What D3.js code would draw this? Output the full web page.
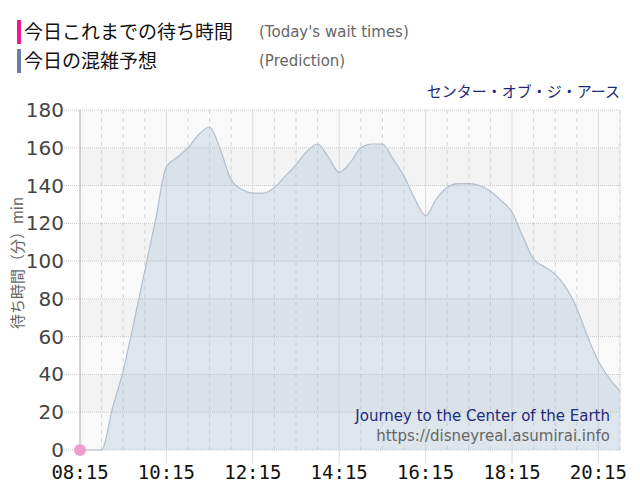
<!DOCTYPE html>
<html>
<head>
<meta charset="utf-8">
<script src="https://cdn.jsdelivr.net/npm/d3@7"></script>
<style>
  body { margin: 0; background: #fff; }
  svg { display: block; font-family: "DejaVu Sans", sans-serif; }
</style>
</head>
<body>
<div class="container"></div>
<script>
// prediction, every 15 minutes from 08:15 to 20:45
const times = ['08:15','08:30','08:45','09:00','09:15','09:30','09:45','10:00','10:15','10:30','10:45',
  '11:00','11:15','11:30','11:45','12:00','12:15','12:30','12:45','13:00','13:15','13:30','13:45',
  '14:00','14:15','14:30','14:45','15:00','15:15','15:30','15:45','16:00','16:15','16:30','16:45',
  '17:00','17:15','17:30','17:45','18:00','18:15','18:30','18:45','19:00','19:15','19:30','19:45',
  '20:00','20:15','20:30','20:45'];
const prediction = [0,0,0,22,42,68,95,122,150,155,160,
  167,171,159,143,138,136,136,139,145,151,158,162,
  155,147,152,160,162,162,154,145,133,124,133,139,
  141,141,140,137,132,126,113,101,97,93,86,75,
  60,47,38,31];
// today's measured wait times so far
const todayTimes = ['08:15'];
const todayWaits = [0];
const xTickLabels = ['08:15','10:15','12:15','14:15','16:15','18:15','20:15'];
const yTicks = [0,20,40,60,80,100,120,140,160,180];

const width = 640;
const height = 500;
const margin = {top: 110, right: 20, bottom: 50, left: 80};

//'hh:mm' -> minutes since midnight
const toMin = s => {
  const [h, m] = s.split(':').map(Number);
  return h * 60 + m;
};
const labelMins = xTickLabels.map(toMin);

const x = d3.scaleLinear()
  .domain([toMin('08:15'), toMin('20:45')])
  .range([margin.left, width - margin.right]);
const y = d3.scaleLinear()
  .domain([0, 180])
  .range([height - margin.bottom, margin.top]);

const svg = d3.select('.container')
  .append('svg')
  .attr('width', width)
  .attr('height', height);

// alternating bands
const bands = d3.range(0, 180, 20);
svg.append('g').selectAll('rect')
  .data(bands)
  .join('rect')
  .attr('x', x.range()[0])
  .attr('width', x.range()[1] - x.range()[0])
  .attr('y', d => y(d + 20))
  .attr('height', d => y(d) - y(d + 20))
  .attr('fill', (d, i) => i % 2 === 0 ? '#f9f9f9' : '#f3f3f3');

// vertical grid every 30 minutes
const halfHours = d3.range(toMin('08:45'), toMin('20:45') + 1, 30);
svg.append('g').selectAll('line')
  .data(halfHours)
  .join('line')
  .attr('x1', d => x(d)).attr('x2', d => x(d))
  .attr('y1', y(180)).attr('y2', d => labelMins.includes(d) ? y(0) + 14 : y(0))
  .attr('stroke', d => labelMins.includes(d) ? '#dcdcdc' : '#d4d4d4')
  .attr('stroke-dasharray', d => labelMins.includes(d) ? null : '4,4');

// horizontal grid
svg.append('g').selectAll('line')
  .data(yTicks)
  .join('line')
  .attr('x1', margin.left - 16).attr('x2', x.range()[1])
  .attr('y1', d => y(d)).attr('y2', d => y(d))
  .attr('stroke', '#c8c8c8')
  .attr('stroke-dasharray', '1,1');

// right border
svg.append('line')
  .attr('x1', x.range()[1]).attr('x2', x.range()[1])
  .attr('y1', y(180)).attr('y2', y(0))
  .attr('stroke', '#cccccc')
  .attr('stroke-dasharray', '1,1');

// prediction area
const predData = times.map((t, i) => ({t: toMin(t), v: prediction[i]}));
const area = d3.area()
  .x(d => x(d.t))
  .y0(y(0))
  .y1(d => y(d.v))
  .curve(d3.curveMonotoneX);
const line = d3.line()
  .x(d => x(d.t))
  .y(d => y(d.v))
  .curve(d3.curveMonotoneX);

svg.append('path')
  .datum(predData)
  .attr('d', area)
  .attr('fill', '#a9bfd6')
  .attr('fill-opacity', 0.35);
svg.append('path')
  .datum(predData)
  .attr('d', line)
  .attr('fill', 'none')
  .attr('stroke', '#b3bfcc')
  .attr('stroke-width', 1.2);

// left axis line
svg.append('line')
  .attr('x1', x.range()[0]).attr('x2', x.range()[0])
  .attr('y1', y(180)).attr('y2', y(0))
  .attr('stroke', '#aaaaaa');

// y tick labels
svg.append('g').selectAll('text')
  .data(yTicks)
  .join('text')
  .attr('x', margin.left - 16)
  .attr('y', d => y(d) + 7)
  .attr('text-anchor', 'end')
  .attr('font-size', 20)
  .attr('fill', '#444')
  .text(d => d);

// x tick labels
svg.append('g').selectAll('text')
  .data(xTickLabels)
  .join('text')
  .attr('x', d => x(toMin(d)))
  .attr('y', y(0) + 29)
  .attr('text-anchor', 'middle')
  .attr('font-size', 19)
  .attr('fill', '#111')
  .style('font-family', '"DejaVu Sans Mono", monospace')
  .text(d => d);

// today's points
const todayData = todayTimes.map((t, i) => ({t: toMin(t), v: todayWaits[i]}));
svg.append('g').selectAll('circle')
  .data(todayData)
  .join('circle')
  .attr('cx', d => x(d.t))
  .attr('cy', d => y(d.v))
  .attr('r', 6)
  .attr('fill', '#f29ccc');

// y axis title
svg.append('text')
  .attr('transform', `translate(23,263) rotate(-90)`)
  .attr('text-anchor', 'middle')
  .attr('font-size', 15)
  .attr('fill', '#666')
  .style('font-family', '"Noto Sans CJK JP", sans-serif')
  .text('待ち時間（分）min');

// legend
const legend = [
  {label: '今日これまでの待ち時間', en: "(Today's wait times)", color: '#f0198c'},
  {label: '今日の混雑予想', en: '(Prediction)', color: '#6a7ea6'}
];
const lg = svg.append('g').selectAll('g')
  .data(legend)
  .join('g')
  .attr('transform', (d, i) => `translate(0,${20 + i * 29})`);
lg.append('rect')
  .attr('x', 17).attr('y', 0)
  .attr('width', 4).attr('height', 24)
  .attr('fill', d => d.color);
lg.append('text')
  .attr('x', 24).attr('y', 19)
  .attr('font-size', 19)
  .attr('fill', '#111')
  .style('font-family', '"Noto Sans CJK JP", sans-serif')
  .text(d => d.label);
lg.append('text')
  .attr('x', 259).attr('y', 17)
  .attr('font-size', 15)
  .attr('fill', '#666')
  .text(d => d.en);

// titles
svg.append('text')
  .attr('x', 620).attr('y', 97)
  .attr('text-anchor', 'end')
  .attr('font-size', 15)
  .attr('fill', '#1f2a7a')
  .style('font-family', '"Noto Sans CJK JP", sans-serif')
  .text('センター・オブ・ジ・アース');
svg.append('text')
  .attr('x', 610).attr('y', 421)
  .attr('text-anchor', 'end')
  .attr('font-size', 15)
  .attr('fill', '#1f2a7a')
  .text('Journey to the Center of the Earth');
svg.append('text')
  .attr('x', 610).attr('y', 441)
  .attr('text-anchor', 'end')
  .attr('font-size', 15)
  .attr('fill', '#666')
  .text('https://disneyreal.asumirai.info');
</script>
</body>
</html>
